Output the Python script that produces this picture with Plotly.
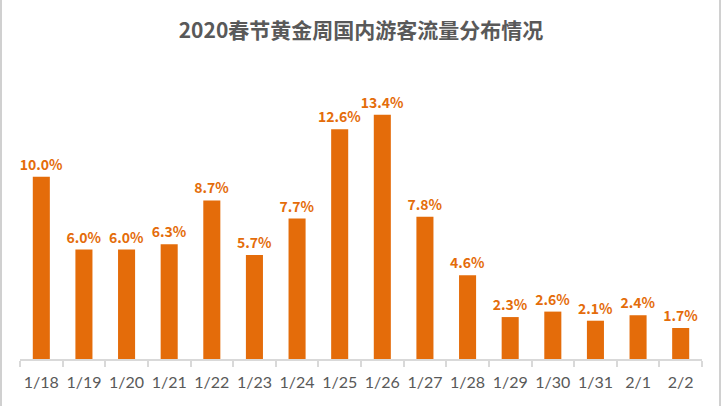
import plotly.graph_objs as go

# 日期與客流量占比
dates = ['1/18', '1/19', '1/20', '1/21', '1/22', '1/23', '1/24', '1/25',
         '1/26', '1/27', '1/28', '1/29', '1/30', '1/31', '2/1', '2/2']
share = [10.0, 6.0, 6.0, 6.3, 8.7, 5.7, 7.7, 12.6,
         13.4, 7.8, 4.6, 2.3, 2.6, 2.1, 2.4, 1.7]
labels = ['%.1f%%' % v for v in share]

bar_color = '#E46C0A'
text_gray = '#595959'

W, H = 722, 406
L, R, T, B = 20, 20, 60, 47
pw = W - L - R

fig = go.Figure(go.Bar(
    x=dates,
    y=share,
    text=labels,
    texttemplate='<b>%{text}</b>',
    textposition='outside',
    constraintext='none',
    textfont=dict(color=bar_color, size=14, family='Noto Sans CJK SC'),
    cliponaxis=False,
    marker=dict(color=bar_color, line=dict(width=0)),
    width=0.4,
))

fig.update_layout(
    width=W, height=H,
    margin=dict(l=L, r=R, t=T, b=B),
    paper_bgcolor='white',
    plot_bgcolor='white',
    title=dict(text='<b>2020春节黄金周国内游客流量分布情况</b>',
               x=0.5, xanchor='center', y=0.925, yanchor='middle',
               font=dict(size=21, color=text_gray, family='Noto Sans CJK SC')),
    font=dict(family='Noto Sans CJK SC', color=text_gray),
    showlegend=False,
    xaxis=dict(showline=True, linecolor='#D9D9D9', linewidth=1.5,
               ticks='outside', tickson='boundaries', ticklen=6, tickcolor='#D9D9D9',
               tickwidth=1.5, ticklabelstandoff=8, tickangle=0, automargin=False,
               tickfont=dict(size=16, color=text_gray, family='Lato, Noto Sans'),
               showgrid=False),
    yaxis=dict(visible=False, range=[0, 16.4], showgrid=False),
    # 左右兩側的灰色邊框
    shapes=[
        dict(type='line', xref='paper', yref='paper',
             x0=(1 - L) / pw, x1=(1 - L) / pw, y0=-0.3, y1=1.3,
             line=dict(color='#D0D0D0', width=2)),
        dict(type='line', xref='paper', yref='paper',
             x0=(W - 2 - L) / pw, x1=(W - 2 - L) / pw, y0=-0.3, y1=1.3,
             line=dict(color='#D0D0D0', width=2)),
    ],
)

fig.write_html('out.html', config={'displayModeBar': False},
               post_script="document.body.style.margin='0';")
